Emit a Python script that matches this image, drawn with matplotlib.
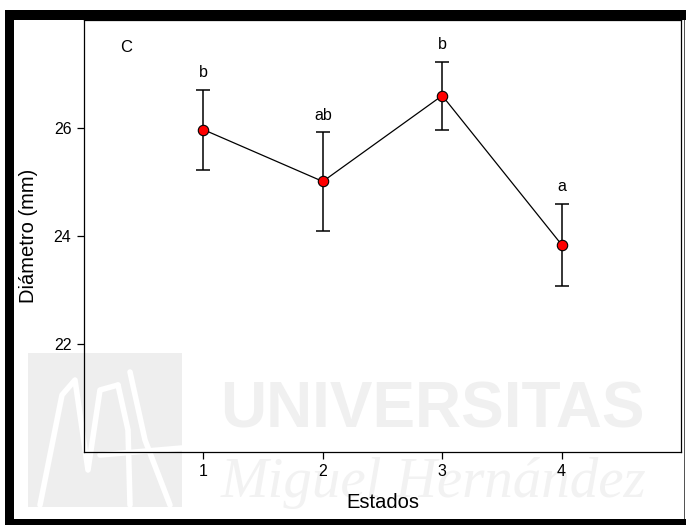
import matplotlib
matplotlib.use("Agg")
import matplotlib.pyplot as plt
from matplotlib.patches import Rectangle
from matplotlib.lines import Line2D

plt.rcParams['font.family'] = ['Liberation Sans', 'DejaVu Sans']

# Mean diameter per state with error bars and significance letters
estados = [1, 2, 3, 4]
diametro = [25.97, 25.01, 26.60, 23.84]
error = [0.74, 0.92, 0.63, 0.76]
letras = ['b', 'ab', 'b', 'a']
panel = 'C'

W, H = 686, 525
fig = plt.figure(figsize=(W / 100, H / 100), dpi=100)
fig.patch.set_facecolor('white')

def px(x0, y0, x1, y1):
    """Figure-fraction box from pixel corners (top-left origin)."""
    return (x0 / W, 1 - y1 / H, (x1 - x0) / W, (y1 - y0) / H)

def add_rect(x0, y0, x1, y1, color, z):
    b = px(x0, y0, x1, y1)
    fig.patches.append(Rectangle(b[:2], *b[2:], transform=fig.transFigure,
                                 facecolor=color, edgecolor='none', zorder=z))

# University watermark, behind everything
add_rect(28, 353, 182, 507, '#eeeeee', -5)
for xs, ys in [([40, 62, 75, 88, 100, 118], [505, 395, 380, 470, 390, 385]),
               ([118, 128, 130], [385, 430, 505]),
               ([130, 145, 170], [372, 440, 505]),
               ([100, 182], [455, 448])]:
    fig.lines.append(Line2D([x / W for x in xs], [1 - y / H for y in ys],
                            transform=fig.transFigure, color='white',
                            linewidth=4, solid_capstyle='round', zorder=-4))
fig.text(432 / W, 1 - 427 / H, 'UNIVERSITAS', family='Liberation Sans',
         weight='bold', fontsize=46, color='#f0f0f0', ha='center',
         va='baseline', zorder=-4)
fig.text(433 / W, 1 - 497 / H, 'Miguel Hernández',
         family='Liberation Serif', style='italic',
         fontsize=41, color='#f2f2f2', ha='center', va='baseline', zorder=-4)

ax = fig.add_axes([84 / W, 1 - 452 / H, (681 - 84) / W, (452 - 20) / H])
ax.set_facecolor('none')

ax.plot(estados, diametro, color='black', linewidth=0.9, zorder=2)
ax.errorbar(estados, diametro, yerr=error, fmt='none', ecolor='black',
            elinewidth=1.1, capsize=4.8, capthick=1.1, zorder=3)
ax.plot(estados, diametro, linestyle='none', marker='o', markersize=7.5,
        markerfacecolor='red', markeredgecolor='black', markeredgewidth=0.8,
        zorder=4)

for x, y, e, t in zip(estados, diametro, error, letras):
    ax.text(x, y + e + 0.17, t, ha='center', va='bottom', fontsize=11.5)

ax.text(0.3, 27.5, panel, ha='left', va='center', fontsize=12)

ax.set_xlim(0, 5)
ax.set_ylim(20, 28)
ax.set_xticks(estados)
ax.set_yticks([22, 24, 26])
ax.tick_params(direction='out', length=5, width=0.9, labelsize=11.5, pad=4)
for s in ax.spines.values():
    s.set_linewidth(0.9)

ax.set_xlabel('Estados', fontsize=14.5, labelpad=10)
ax.set_ylabel('Diámetro (mm)', fontsize=14.5, labelpad=11)

# Black frame around the figure
add_rect(5, 10, 686, 20, 'black', 5)
add_rect(5, 10, 14, 525, 'black', 5)
add_rect(5, 519, 686, 525, 'black', 5)
add_rect(684, 20, 685, 519, '#555555', 5)

fig.savefig('out.png', dpi=100)
